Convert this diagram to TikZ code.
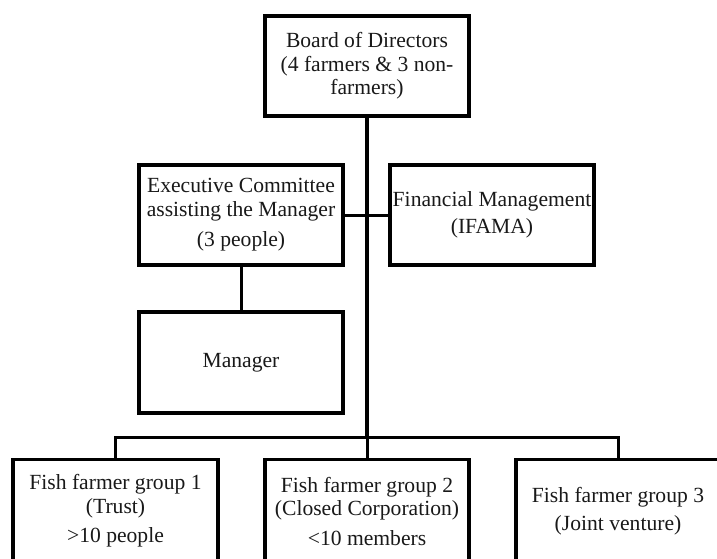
\documentclass[tikz,border=0pt]{standalone}
\usepackage{fontspec}
\setmainfont{Liberation Serif}
\begin{document}
\begin{tikzpicture}[x=1pt,y=-1pt,
  box/.style={draw=black, fill=white, line width=3.6pt, minimum width=204.5pt, minimum height=100.5pt,
    inner sep=0pt, align=center, font=\fontsize{21.6}{23.5}\selectfont, text=black!90},
  link/.style={line width=3.6pt, draw=black},
  thinlink/.style={line width=3pt, draw=black}]
\useasboundingbox (0,0) rectangle (717,558);
\clip (0,0) rectangle (717,558);
\node[box] (board) at (367,66) {Board of Directors\\(4 farmers \& 3 non-\\farmers)};
\node[box] (exec) at (241,215) {Executive Committee\\assisting the Manager\\[7pt](3 people)};
\node[box] (fin) at (492,215) {Financial Management\\[3pt](IFAMA)};
\node[box] (mgr) at (241,362.5) {Manager};
\node[box, minimum height=103pt] (g1) at (115.5,511) {Fish farmer group 1\\(Trust)\\[6pt]>10 people};
\node[box, minimum height=103pt] (g2) at (367,511) {Fish farmer group 2\\(Closed Corporation)\\[6pt]<10 members};
\node[box, minimum height=103pt] (g3) at (618,511) {Fish farmer group 3\\[5pt](Joint venture)};
\coordinate (bl) at (115.5,437);
\coordinate (br) at (618,437);
\draw[link] (board.south) -- (board.south |- bl);
\draw[thinlink] (g1.north) -- (bl) -- (br) -- (g3.north);
\draw[thinlink] (g2.north) -- (g2.north |- bl);
\draw[thinlink] (exec.east) -- (fin.west);
\draw[thinlink] (exec.south) -- (mgr.north);
\end{tikzpicture}
\end{document}
